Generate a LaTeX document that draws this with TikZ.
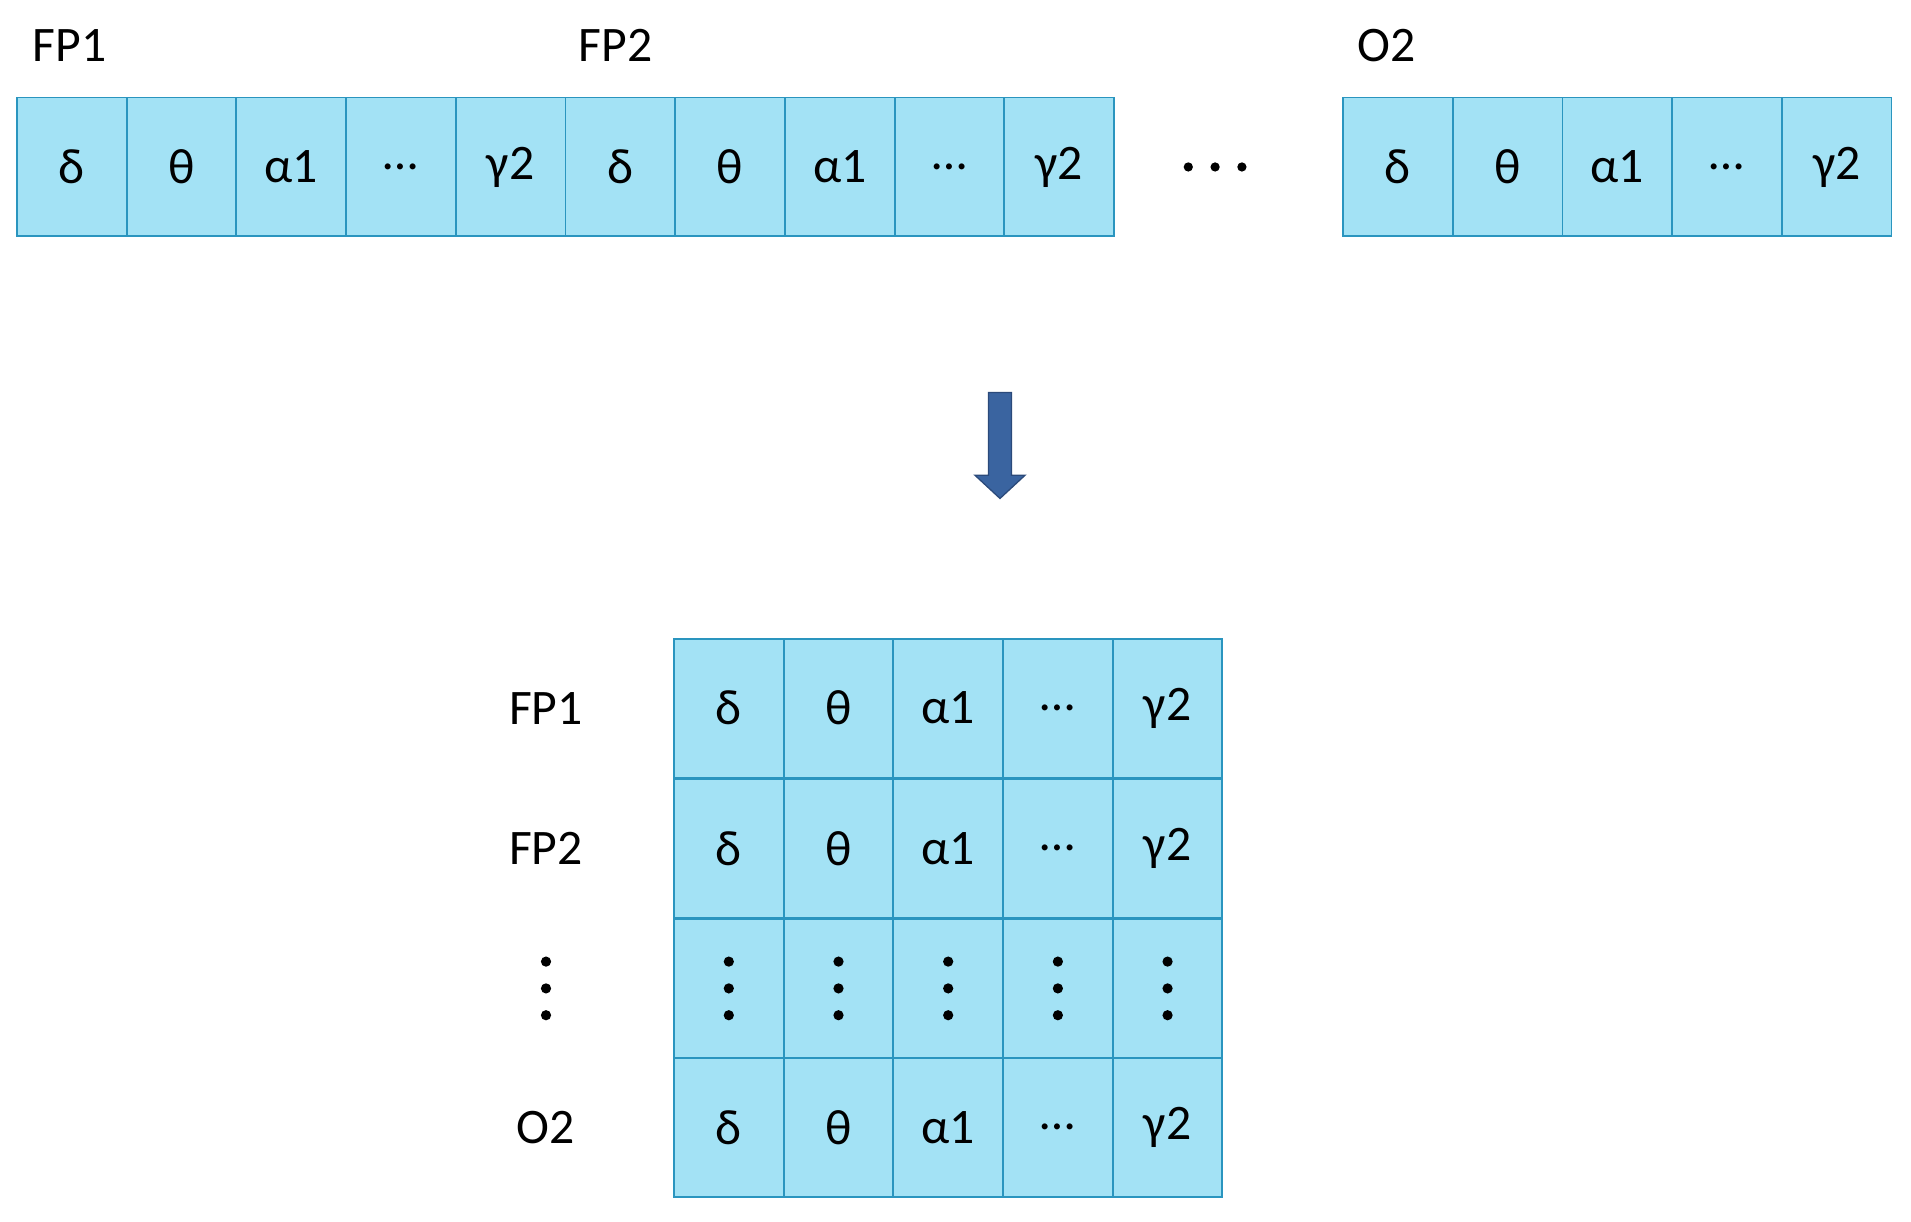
\documentclass[tikz,border=0pt]{standalone}
\usepackage{fontspec}
\setmainfont{Carlito}
\definecolor{cellfill}{HTML}{A3E2F5}
\definecolor{celldraw}{HTML}{2A95BF}
\definecolor{arrowblue}{HTML}{3A64A0}
\definecolor{arrowdraw}{HTML}{2B4A7A}
\begin{document}
\begin{tikzpicture}[x=0.05cm,y=-0.05cm,
  cell/.style={draw=celldraw,fill=cellfill,line width=2.2pt,minimum width=4.5cm,minimum height=5.7cm,inner sep=0pt,font=\fontsize{58}{62}\selectfont},
  lab/.style={font=\fontsize{58}{62}\selectfont,inner sep=0pt},
  vdots/.style={fill=black,circle,inner sep=0pt,minimum size=0.42cm}]
\useasboundingbox (0,0) rectangle (1568,1002);
% top row
\foreach \t [count=\i from 0] in {δ,θ,α1,…,γ2,δ,θ,α1,…,γ2}
  \node[cell] (t\i) at (59+90*\i,137) {\t};
\foreach \t [count=\i from 0] in {δ,θ,α1,…,γ2}
  \node[cell] (o\i) at (1147+90*\i,137) {\t};
\node[lab] (lfp1) at (57,37) {FP1};
\node[lab] (lfp2) at (505,37) {FP2};
\node[lab] (lo2) at (1138,37) {O2};
\foreach \x in {975,997,1019} \node[vdots,minimum size=0.38cm] at (\x,137) {};
% arrow
\fill[arrowblue,draw=arrowdraw,line width=1.5pt] (811,322) -- (830,322) -- (830,390) -- (841,390) -- (820.5,409) -- (800,390) -- (811,390) -- cycle;
% grid
\foreach \r/\y/\lab in {0/581/FP1,1/696/FP2,3/925/O2}{
  \foreach \t [count=\c from 0] in {δ,θ,α1,…,γ2}
    \node[cell] (g\r\c) at (598+90*\c,\y) {\t};
  \node[lab] (r\r) at (448,\y) {\lab};
}
\foreach \c in {0,...,4}{
  \node[cell] (g2\c) at (598+90*\c,811) {};
  \foreach \dy in {-22,0,22} \node[vdots] at (598+90*\c,811+\dy) {};
}
\foreach \dy in {-22,0,22} \node[vdots] at (448,811+\dy) {};
\end{tikzpicture}
\end{document}
